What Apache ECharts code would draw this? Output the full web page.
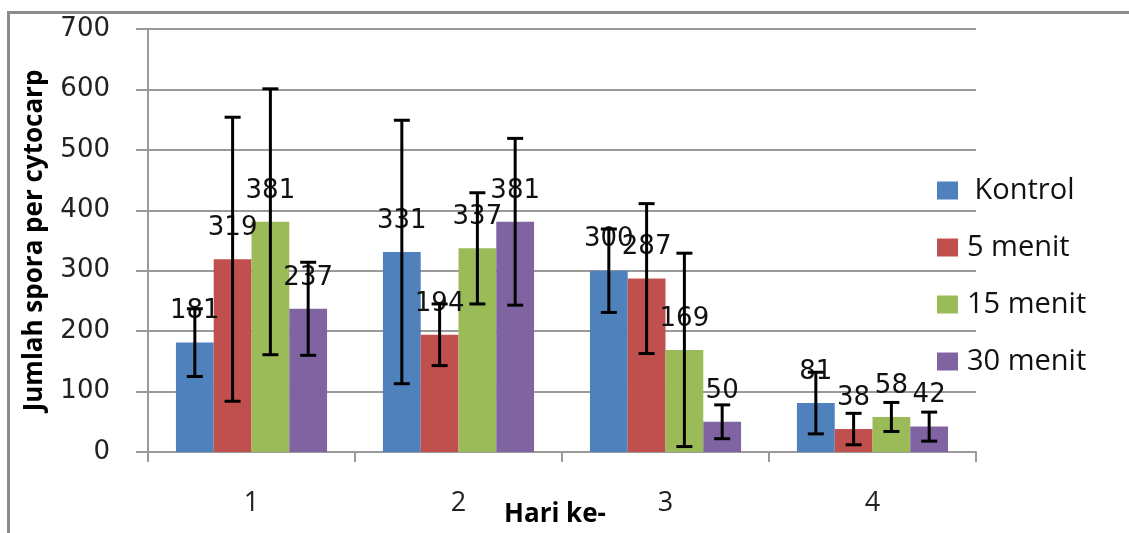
<!DOCTYPE html>
<html>
<head>
<meta charset="utf-8">
<script src="https://cdn.jsdelivr.net/npm/echarts@6/dist/echarts.min.js"></script>
<style>
html,body{margin:0;padding:0;background:#fff;}
#chart{width:1129px;height:533px;}
</style>
</head>
<body>
<div id="chart"></div>
<script>
// ---- data ----
const categories = ['1', '2', '3', '4'];
const seriesNames = [' Kontrol', '5 menit', '15 menit', '30 menit'];
const kontrol = [181, 331, 300, 81];
const menit5 = [319, 194, 287, 38];
const menit15 = [381, 337, 169, 58];
const menit30 = [237, 381, 50, 42];
// error bar half-widths (±)
const kontrolErr = [56, 218, 69, 51];
const menit5Err = [235, 51, 124, 26];
const menit15Err = [220, 92, 160, 24];
const menit30Err = [77, 138, 28, 24];
const yTicks = [0, 100, 200, 300, 400, 500, 600, 700];

const values = [kontrol, menit5, menit15, menit30];
const errs = [kontrolErr, menit5Err, menit15Err, menit30Err];
const colors = ['#4F81BD', '#C0504D', '#9BBB59', '#8064A2'];
const CAT_GAP = 0.27;

const chart = echarts.init(document.getElementById('chart'), null, {renderer: 'canvas'});

const barSeries = values.map((v, i) => ({
  name: seriesNames[i],
  type: 'bar',
  data: v,
  barGap: '0%',
  barCategoryGap: (CAT_GAP * 100) + '%',
  itemStyle: {color: colors[i]},
  z: 2,
  label: {
    show: true,
    position: 'top',
    distance: 18,
    fontFamily: 'DejaVu Sans',
    fontSize: 26,
    color: '#111'
  }
}));

const errData = [];
errs.forEach((e, si) => {
  e.forEach((d, ci) => {
    errData.push([ci, values[si][ci] - d, values[si][ci] + d, si]);
  });
});

const errSeries = {
  type: 'custom',
  z: 5,
  silent: true,
  data: errData,
  encode: {x: 0, y: [1, 2]},
  renderItem: function (params, api) {
    const ci = api.value(0), lo = api.value(1), hi = api.value(2), si = api.value(3);
    const band = api.size([1, 0])[0];
    const bw = band * (1 - CAT_GAP) / 4;
    const center = api.coord([ci, 0])[0];
    const x = center - band * (1 - CAT_GAP) / 2 + (si + 0.5) * bw;
    const yLo = api.coord([ci, lo])[1];
    const yHi = api.coord([ci, hi])[1];
    const cap = 8;
    const st = {stroke: '#000', lineWidth: 3};
    return {
      type: 'group',
      children: [
        {type: 'line', shape: {x1: x, y1: yLo, x2: x, y2: yHi}, style: st},
        {type: 'line', shape: {x1: x - cap, y1: yHi, x2: x + cap, y2: yHi}, style: st},
        {type: 'line', shape: {x1: x - cap, y1: yLo, x2: x + cap, y2: yLo}, style: st}
      ]
    };
  }
};

const option = {
  backgroundColor: '#fff',
  animation: false,
  graphic: [{
    type: 'rect',
    left: 6, top: 10,
    shape: {width: 1300, height: 700},
    style: {fill: 'none', stroke: '#8c8c8c', lineWidth: 3},
    silent: true
  }],
  grid: {left: 148, right: 153, top: 29, bottom: 81, containLabel: false, outerBoundsMode: 'none'},
  legend: {
    orient: 'vertical',
    left: 932,
    top: 167,
    itemWidth: 21,
    itemHeight: 18,
    itemGap: 20,
    icon: 'rect',
    data: seriesNames,
    textStyle: {fontFamily: 'Open Sans', fontSize: 29, lineHeight: 37, color: '#111', padding: [0, 0, 0, 4]}
  },
  xAxis: {
    type: 'category',
    data: categories,
    name: 'Hari ke-',
    nameLocation: 'middle',
    nameGap: 50,
    nameMoveOverlap: false,
    nameTextStyle: {fontFamily: 'Open Sans', fontWeight: 'bold', fontSize: 26, color: '#000', padding: [0, 14, 0, 0]},
    axisLine: {lineStyle: {color: '#9a9a9a', width: 2}},
    axisTick: {show: true, length: 10, alignWithLabel: false, lineStyle: {color: '#9a9a9a', width: 2}},
    axisLabel: {fontFamily: 'Open Sans', fontSize: 27, color: '#222', margin: 38}
  },
  yAxis: {
    type: 'value',
    min: yTicks[0],
    max: yTicks[yTicks.length - 1],
    interval: 100,
    name: 'Jumlah spora per cytocarp',
    nameLocation: 'middle',
    nameGap: 100,
    nameMoveOverlap: false,
    nameTextStyle: {fontFamily: 'Open Sans', fontWeight: 'bold', fontSize: 26, color: '#000'},
    axisLine: {show: true, lineStyle: {color: '#9a9a9a', width: 2}},
    axisTick: {show: true, length: 12, lineStyle: {color: '#9a9a9a', width: 2}},
    axisLabel: {fontFamily: 'DejaVu Sans', fontSize: 26, color: '#222', margin: 38},
    splitLine: {lineStyle: {color: '#9a9a9a', width: 2}}
  },
  series: barSeries.concat([errSeries])
};
chart.setOption(option);
</script>
</body>
</html>
